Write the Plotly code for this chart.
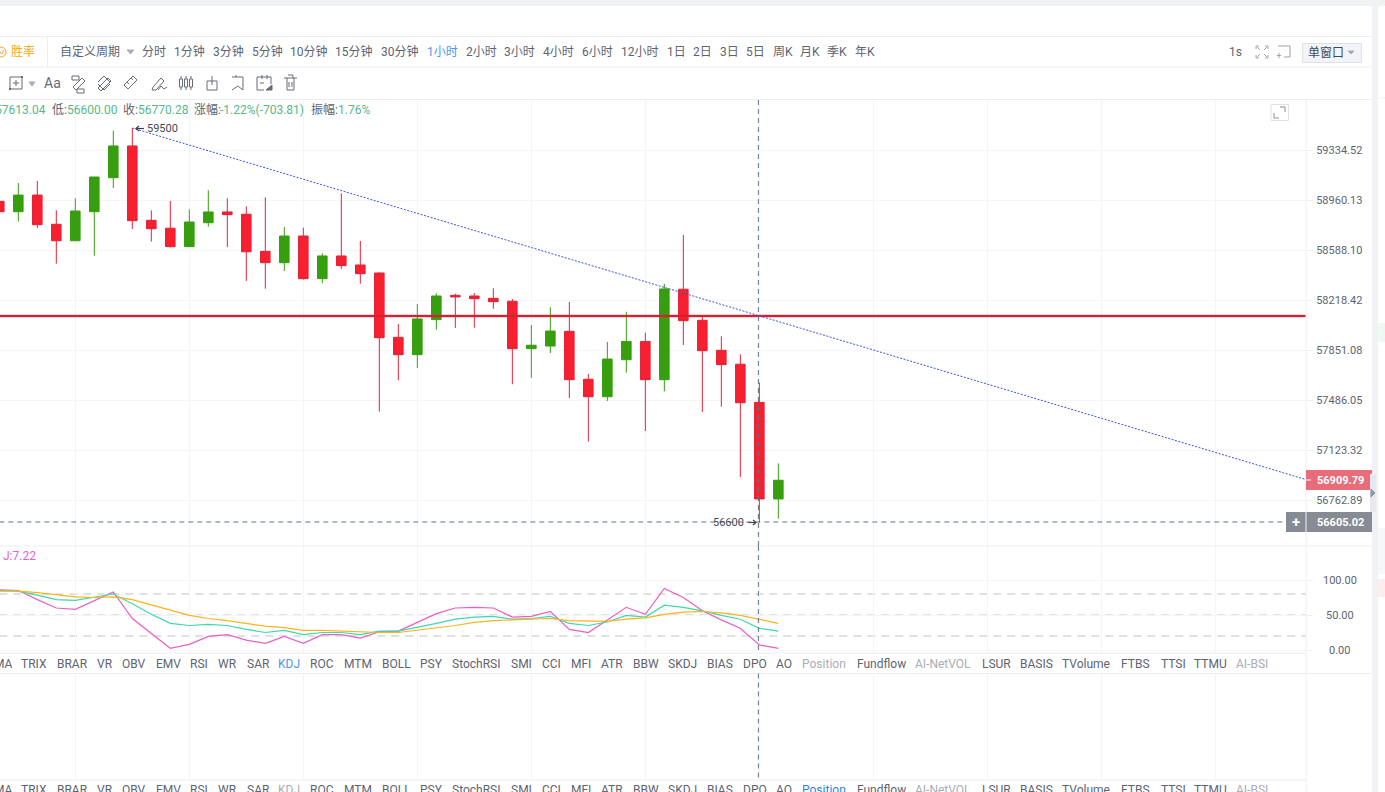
import math
import plotly.graph_objects as go

W, H = 1385, 792

# Candles, one hour each (red = falling, green = rising)
opens = [58950, 58873, 58997, 58779, 58657, 58873, 59127, 59365, 58809, 58750, 58613, 58791, 58871, 58854,
         58578, 58494, 58692, 58376, 58544, 58477, 58418, 57944, 57817, 58074, 58253, 58248, 58231, 58209,
         57861, 57880, 57988, 57637, 57510, 57780, 57914, 57634, 58298, 58069, 57849, 57747, 57469, 56770.28]
highs = [58990, 59087, 59102, 58883, 58973, 59132, 59480, 59500, 58883, 58953, 58891, 59033, 58973, 58913,
         58980, 58759, 58754, 58564, 59010, 58655, 58423, 58042, 58189, 58268, 58265, 58270, 58305, 58226,
         58035, 58165, 58204, 57676, 57910, 58132, 57978, 58337, 58700, 58096, 57952, 57820, 57613.04, 57027]
lows = [58850, 58799, 58752, 58487, 58657, 58546, 59050, 58744, 58650, 58606, 58613, 58761, 58609, 58359,
        58302, 58433, 58369, 58342, 58448, 58339, 57401, 57630, 57720, 58000, 58013, 58015, 58154, 57601,
        57647, 57829, 57500, 57184, 57479, 57685, 57261, 57549, 57888, 57399, 57437, 56928, 56600, 56629]
closes = [58873, 58997, 58776, 58657, 58878, 59132, 59365, 58806, 58746, 58613, 58796, 58871, 58851, 58575,
          58494, 58692, 58376, 58544, 58472, 58413, 57941, 57817, 58079, 58248, 58241, 58228, 58206, 57861,
          57886, 57990, 57634, 57510, 57785, 57914, 57634, 58300, 58066, 57846, 57744, 57466, 56770.28, 56905]

# KDJ
k_vals = [85, 84, 78.5, 72, 71, 75, 80, 66, 51, 38, 35, 36.7, 35, 29.5, 25, 28, 22, 25, 25, 22, 27, 27, 32, 38,
          44, 47, 48, 44, 45, 48, 38, 35, 40, 49.5, 47, 64, 61, 56, 49.5, 44, 31, 27]
d_vals = [84, 84, 82, 79, 76, 75, 76, 72, 65, 57, 49.5, 45, 42, 38, 34, 32, 28, 28, 27, 25, 25, 25, 28, 31,
          35, 39.5, 42, 43, 44, 45, 42, 41, 41, 44, 46, 51, 54, 55, 53, 49.5, 44, 38]
j_vals = [86, 85, 72, 60, 58, 71, 83, 45, 24, 2.4, 8, 19.5, 22, 14, 9.5, 19.5, 9.5, 22, 22, 17, 26, 27, 39.5, 52,
          60, 61, 60, 47, 48, 55, 29.5, 25, 43, 61, 51, 88, 75, 56, 43, 31, 7.22, 2.4]

candle_idx = list(range(len(opens)))

price_ticks = [59334.52, 58960.13, 58588.10, 58218.42, 57851.08, 57486.05, 57123.32, 56762.89]
kdj_ticks = [0, 50, 100]
kdj_levels = [20, 50, 80]

# Drawn lines and crosshair
trend_idx = [7, 68.77]
trend_price = [59500, 56909.79]
level_price = 58101
cross_idx = 39.95
cross_price = 56605.02

period_labels = ["自定义周期", "分时", "1分钟", "3分钟", "5分钟", "10分钟", "15分钟", "30分钟", "1小时", "2小时", "3小时",
                 "4小时", "6小时", "12小时", "1日", "2日", "3日", "5日", "周K", "月K", "季K", "年K"]
period_x = [90, 154, 189, 228, 267, 309, 354, 400, 442, 481, 519, 558, 597, 640, 676, 702, 729, 755, 783, 810, 837, 865]

tab_labels = ["MA", "TRIX", "BRAR", "VR", "OBV", "EMV", "RSI", "WR", "SAR", "KDJ", "ROC", "MTM", "BOLL", "PSY",
              "StochRSI", "SMI", "CCI", "MFI", "ATR", "BBW", "SKDJ", "BIAS", "DPO", "AO", "Position", "Fundflow",
              "AI-NetVOL", "LSUR", "BASIS", "TVolume", "FTBS", "TTSI", "TTMU", "AI-BSI"]
tab_x = [3, 34, 72, 105, 134, 168, 199, 227, 258, 289, 322, 358, 396, 431, 476, 521, 551, 581, 612, 646, 682, 720,
         755, 784, 824, 881, 943, 996, 1036, 1086, 1135, 1173, 1210, 1252]

TEXT = "#5d6470"
GREY = "#a9adb5"
BLUE = "#4d94f2"
LINE = "#eceef2"
GRID = "#f3f5f8"
ICON = "#666b77"
CROSS = "#5f7488"
CJK = "Roboto, 'Noto Sans CJK SC'"


def px(x):
    return x / W


def py(y):
    return 1 - y / H


shapes = []
annots = []


def rect(x0, y0, x1, y1, fill, border=None, layer="above"):
    shapes.append(dict(type="rect", xref="paper", yref="paper", x0=px(x0), x1=px(x1), y0=py(y0), y1=py(y1),
                       fillcolor=fill, line=dict(color=border or fill, width=1 if border else 0), layer=layer))


def stroke(points, color=ICON, width=1, close=False, fill=None):
    d = "M " + " L ".join(f"{px(a):.5f} {py(b):.5f}" for a, b in points)
    if close:
        d += " Z"
    shapes.append(dict(type="path", xref="paper", yref="paper", path=d, line=dict(color=color, width=width),
                       fillcolor=fill or "rgba(0,0,0,0)"))


def label(x, y, text, color=TEXT, size=12, anchor="center", bold=False):
    # annotations carry about 2px of padding on their anchored side
    if anchor == "left":
        x -= 2
    elif anchor == "right":
        x += 2
    t = f"<b>{text}</b>" if bold else text
    annots.append(dict(xref="paper", yref="paper", x=px(x), y=py(y), text=t, showarrow=False, xanchor=anchor,
                       yanchor="middle", font=dict(family=CJK, size=size, color=color)))


def arrow(x0, x1, y, color="#3c424d"):
    # small drawn arrow from x0 to x1
    d = 1 if x1 > x0 else -1
    stroke([(x0, y), (x1, y)], color, 1.2)
    stroke([(x1 - 3 * d, y - 2.5), (x1, y), (x1 - 3 * d, y + 2.5)], color, 1.2)


fig = go.Figure()

fig.add_trace(go.Candlestick(x=candle_idx, open=opens, high=highs, low=lows, close=closes, whiskerwidth=0,
                             increasing=dict(line=dict(color="#379e10", width=1), fillcolor="#379e10"),
                             decreasing=dict(line=dict(color="#e2233a", width=1), fillcolor="#f6202f"),
                             xaxis="x", yaxis="y"))

# red level line has a soft halo
fig.add_trace(go.Scatter(x=[0, 68.77], y=[level_price, level_price], mode="lines",
                         line=dict(color="rgba(225,40,60,0.25)", width=3.5), xaxis="x", yaxis="y"))
fig.add_trace(go.Scatter(x=[0, 68.77], y=[level_price, level_price], mode="lines",
                         line=dict(color="#d81f30", width=2), xaxis="x", yaxis="y"))
fig.add_trace(go.Scatter(x=trend_idx, y=trend_price, mode="lines",
                         line=dict(color="#3f55d8", width=1, dash="2px,1.5px"), xaxis="x", yaxis="y"))

for vals, color in [(j_vals, "#ea5fc4"), (k_vals, "#3fd6b0"), (d_vals, "#fbb31a")]:
    fig.add_trace(go.Scatter(x=candle_idx, y=vals, mode="lines", line=dict(color=color, width=1.2),
                             xaxis="x2", yaxis="y2"))

fig.add_trace(go.Scatter(x=[], y=[], xaxis="x3", yaxis="y3"))

# outer page chrome
rect(0, 0, W, 6, "#f1f2f6")
rect(1372, 6, 1378, H, "#f1f2f6")
rect(1378, 323, W, 342, "#f0f8f3")
rect(1378, 528, W, 574, "#f6f7f9")
rect(1378, 579, W, 597, "#fdeeee")

# dividers
for y, x1 in [(36.5, 1372), (67, 1372), (99.5, 1372), (546, 1372), (653, 1306), (673.5, 1372), (780, 1306)]:
    stroke([(0, y), (x1, y)], LINE)
stroke([(47.5, 37), (47.5, 67)], LINE)
stroke([(1306, 99), (1306, H)], LINE)
stroke([(1378, 98), (W, 98)], LINE)

# period row
for name, x in zip(period_labels, period_x):
    label(x, 52, name, BLUE if name == "1小时" else TEXT)
stroke([(127, 50), (134, 50), (130.5, 54)], GREY, close=True, fill=GREY)
label(23, 52, "胜率", "#f5a623")
shapes.append(dict(type="circle", xref="paper", yref="paper", x0=px(-4), x1=px(6), y0=py(47), y1=py(57),
                   line=dict(color="#f5a623", width=1)))
stroke([(0, 52), (2, 54), (4, 50)], "#f5a623")
label(1235, 52, "1s")
for a, b, c, d in [(1256, 46, 1, 1), (1268, 46, -1, 1), (1256, 58, 1, -1), (1268, 58, -1, -1)]:
    stroke([(a + 4 * c, b + 4 * d), (a + c, b + d)], "#a3a8b1")
    stroke([(a, b + 3 * d), (a, b), (a + 3 * c, b)], "#a3a8b1")
stroke([(1278, 46), (1290, 46), (1290, 57), (1284, 57)], "#9aa0aa")
stroke([(1279, 53), (1279, 58)], "#9aa0aa")
stroke([(1277, 55.5), (1281, 55.5)], "#9aa0aa")
rect(1302.5, 43.5, 1361.5, 62.5, "#f3f4f8", "#dfe1e7")
label(1326, 53, "单窗口", "#444a55")
stroke([(1348, 51), (1354, 51), (1351, 54)], GREY, close=True, fill=GREY)

# drawing tools row
stroke([(10, 77), (22, 77), (22, 89), (10, 89)], ICON, close=True)
stroke([(16, 80), (16, 86)], ICON)
stroke([(13, 83), (19, 83)], ICON)
rect(9, 88, 11, 90, ICON)
rect(21, 76, 23, 78, ICON)
stroke([(29, 82), (35, 82), (32, 86)], GREY, close=True, fill=GREY)
label(52, 83, "Aa", ICON, 14)
stroke([(72, 76), (79, 76), (79, 80), (72, 80)], ICON, close=True)
stroke([(77, 89), (84, 89), (84, 93), (77, 93)], ICON, close=True)
stroke([(73, 87), (82, 78), (85, 81), (76, 90)], ICON, close=True)
stroke([(98, 88), (108, 78), (111, 81), (101, 91)], ICON, close=True)
stroke([(98, 82), (104, 76), (110, 82)], ICON)
stroke([(98, 84), (104, 90), (110, 84)], ICON)
stroke([(124, 85), (133, 76), (137, 80), (128, 89)], ICON, close=True)
stroke([(127, 82), (129, 84)], ICON)
stroke([(131, 78), (133, 80)], ICON)
stroke([(153, 87), (161, 78), (164, 81), (156, 90), (152, 90)], ICON, close=True)
stroke([(158, 90), (161, 86), (164, 89), (167, 87)], ICON)
for x in (181, 186, 191):
    stroke([(x, 76), (x, 90)], ICON)
    rect(x - 1.5, 79, x + 1.5, 87, "#ffffff", ICON)
stroke([(207, 81), (217, 81), (217, 90), (207, 90)], ICON, close=True)
stroke([(212, 76), (212, 85)], ICON)
stroke([(232, 77), (243, 77), (243, 90), (238, 86), (232, 90)], ICON)
stroke([(236, 77), (236, 75)], ICON)
stroke([(257, 90), (257, 77), (271, 77), (271, 84)], ICON)
stroke([(262, 75), (262, 79)], ICON)
stroke([(267, 75), (267, 79)], ICON)
stroke([(257, 90), (264, 90)], ICON)
stroke([(260, 83), (264, 83)], ICON)
stroke([(266, 90), (272, 85), (272, 90)], ICON, close=True, fill=ICON)
stroke([(284, 78), (297, 78)], ICON)
stroke([(287, 78), (287, 90), (294, 90), (294, 78)], ICON)
stroke([(288, 75), (293, 75), (293, 78)], ICON)
stroke([(289, 82), (289, 87)], ICON)
stroke([(292, 82), (292, 87)], ICON)

# quote line
green_text = "#58b88b"
label(46, 110, "57613.04", green_text, 12, "right")
for x, text, color in [(52, "低:", TEXT), (67, "56600.00", green_text), (123, "收:", TEXT), (138, "56770.28", green_text),
                       (194, "涨幅:", TEXT), (220, "-1.22%(-703.81)", green_text), (311, "振幅:", TEXT), (338, "1.76%", green_text)]:
    label(x, 110, text, color, 12, "left")

# expand button
rect(1271, 104.5, 1288.5, 120.5, "#ffffff", "#dfe1e6")
stroke([(1280, 107), (1285, 107), (1285, 112)], "#8b9099")
stroke([(1274, 113), (1274, 118), (1279, 118)], "#8b9099")

# price tags
rect(1306, 470, 1372, 490, "#e86c7a")
stroke([(1306, 480), (1311, 480)], "#ffffff")
label(1316.5, 480, "56909.79", "#ffffff", 11, "left", True)
rect(1286, 512, 1305.5, 532, "#878b94")
rect(1306.5, 512, 1372, 532, "#878b94")
label(1296, 522, "+", "#ffffff", 15, "center", True)
label(1316.5, 522, "56605.02", "#ffffff", 11, "left", True)
rect(1370, 474, 1376, 512, "#e7e9ee")
stroke([(1371, 489), (1375, 493), (1371, 497)], "#9298a3", close=True, fill="#9298a3")

# indicator tabs, twice
for name, x in zip(tab_labels, tab_x):
    c = TEXT
    if name == "KDJ":
        c = BLUE
    elif name in ("Position", "AI-NetVOL", "AI-BSI"):
        c = GREY
    label(x, 663.5, name, c, 12)
    c = TEXT
    if name == "KDJ":
        c = GREY
    elif name == "Position":
        c = "#2f82ee"
    elif name in ("AI-NetVOL", "AI-BSI"):
        c = GREY
    label(x, 789.5, name, c, 12)

label(3, 555.5, "J:7.22", "#ea5fc4", 12, "left")

# kdj axis labels are centred, so not axis tick labels
for v in kdj_ticks:
    annots.append(dict(xref="paper", yref="y2", x=px(1339.5), y=v, text=f"{v:.2f}", showarrow=False, xanchor="center",
                       yanchor="middle", font=dict(family="Roboto", size=11, color=TEXT)))

# drawing labels
annots.append(dict(xref="x", yref="y", x=7.67, y=math.log10(59500), text="59500", showarrow=False, xanchor="left",
                   yanchor="middle", font=dict(family="Roboto", size=11, color="#444a55")))
annots.append(dict(xref="x", yref="y", x=39.3, y=math.log10(56600), text="56600", showarrow=False, xanchor="right",
                   yanchor="middle", font=dict(family="Roboto", size=11, color="#444a55")))
arrow(144, 136, 128.5)
arrow(748, 756, 522.5)

# kdj guide levels
for v in kdj_levels:
    shapes.append(dict(type="line", xref="x2", yref="y2", x0=0, x1=68.77, y0=v, y1=v, layer="below",
                       line=dict(color="#c0c2c6", width=1, dash="8px,6px")))

# crosshair
for top, bottom in [(100, 546), (546, 653), (673.5, 780)]:
    shapes.append(dict(type="line", xref="x", yref="paper", x0=cross_idx, x1=cross_idx, y0=py(top), y1=py(bottom),
                       line=dict(color=CROSS, width=1, dash="5px,4px")))
shapes.append(dict(type="line", xref="x", yref="y", x0=0, x1=(1286 + 0.7) / 19, y0=cross_price, y1=cross_price,
                   line=dict(color=CROSS, width=1, dash="5px,4px")))

x_common = dict(range=[0.037, 68.77], tickvals=list(range(4, 65, 6)), showticklabels=False, ticks="",
                gridcolor=GRID, showgrid=True, zeroline=False, showline=False)

fig.update_layout(
    width=W, height=H, margin=dict(l=0, r=0, t=0, b=0), autosize=False,
    paper_bgcolor="#ffffff", plot_bgcolor="#ffffff", showlegend=False, boxgap=0.28,
    font=dict(family=CJK, size=12, color=TEXT),
    xaxis=dict(domain=[0, px(1306)], anchor="y", rangeslider=dict(visible=False), **x_common),
    yaxis=dict(domain=[py(546), py(99.5)], type="log", range=[math.log10(56433.3), math.log10(59715.1)], side="right",
               anchor="x", tickvals=price_ticks, ticktext=[f"{p:.2f}" for p in price_ticks], ticks="outside",
               ticklen=6, tickcolor=LINE, gridcolor=GRID, zeroline=False, ticklabelstandoff=1,
               tickfont=dict(family="Roboto", size=11, color=TEXT)),
    xaxis2=dict(domain=[0, px(1306)], anchor="y2", **x_common),
    yaxis2=dict(domain=[py(653), py(546)], range=[-4.29, 148.57], side="right", anchor="x2", tickvals=kdj_ticks,
                showticklabels=False, ticks="outside", ticklen=6, tickcolor=LINE, gridcolor=GRID, zeroline=False),
    xaxis3=dict(domain=[0, px(1306)], anchor="y3", **x_common),
    yaxis3=dict(domain=[py(780), py(673.5)], range=[0, 1], showgrid=False, showticklabels=False, zeroline=False),
    shapes=shapes, annotations=annots,
)

fig.write_html("out.html", config=dict(displayModeBar=False),
               post_script="document.body.style.margin='0';document.body.style.overflow='hidden';")
